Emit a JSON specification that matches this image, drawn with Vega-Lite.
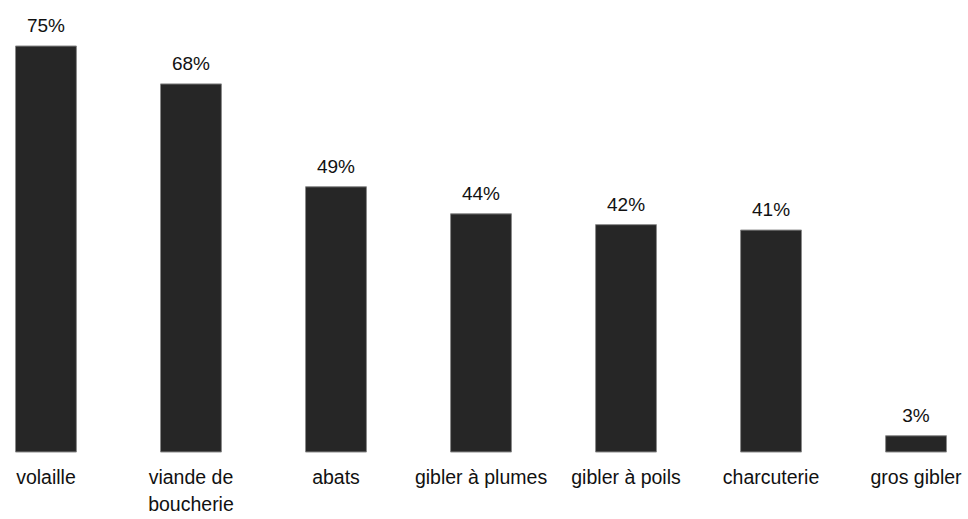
{
  "$schema": "https://vega.github.io/schema/vega-lite/v6.json",
  "width": 962,
  "height": 452,
  "padding": {"left": 0, "top": 0, "right": 6, "bottom": 0},
  "background": "white",
  "config": {"view": {"stroke": null}, "font": "Liberation Sans"},
  "data": {"values": [
    {"cat": "volaille", "v": 75, "lbl": "75%"},
    {"cat": "viande de\nboucherie", "v": 68, "lbl": "68%"},
    {"cat": "abats", "v": 49, "lbl": "49%"},
    {"cat": "gibler à plumes", "v": 44, "lbl": "44%"},
    {"cat": "gibler à poils", "v": 42, "lbl": "42%"},
    {"cat": "charcuterie", "v": 41, "lbl": "41%"},
    {"cat": "gros gibler", "v": 3, "lbl": "3%"}
  ]},
  "encoding": {
    "x": {"field": "cat", "type": "nominal", "sort": null,
      "scale": {"paddingInner": 0.58, "paddingOuter": 0.107},
      "axis": {"title": null, "domain": false, "ticks": false, "labelAngle": 0,
        "labelExpr": "split(datum.label, '\\n')", "labelFontSize": 19.5, "labelColor": "#111",
        "labelPadding": 16, "labelLineHeight": 27, "labelFont": "Liberation Sans"}},
    "y": {"field": "v", "type": "quantitative", "scale": {"domain": [0, 83.5], "nice": false}, "axis": null}
  },
  "layer": [
    {"mark": {"type": "bar", "fill": "#262626", "stroke": "#8a8a8a", "strokeWidth": 1}},
    {"mark": {"type": "text", "dy": -20, "fontSize": 19, "color": "#111", "font": "Liberation Sans"},
      "encoding": {"text": {"field": "lbl", "type": "nominal"}}}
  ]
}
